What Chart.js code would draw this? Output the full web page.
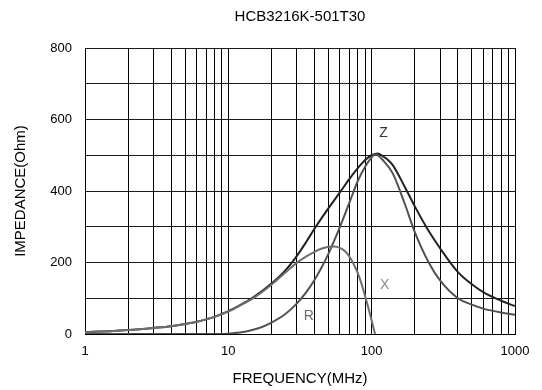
<!DOCTYPE html>
<html>
<head>
<meta charset="utf-8">
<title>HCB3216K-501T30</title>
<script src="https://cdn.jsdelivr.net/npm/chart.js@4/dist/chart.umd.min.js"></script>
<style>
  html, body { margin: 0; padding: 0; background: #fff; }
</style>
</head>
<body>
<canvas id="impedanceChart" width="542" height="390"></canvas>
<script>
// values: frequency in MHz, impedance in Ohm
const xFreq = [1, 1.5, 2, 3, 4, 5, 6, 7, 8, 10, 12, 15, 20, 25, 30, 35, 40, 45, 50, 55, 60, 65, 70, 75, 80, 85, 90, 95, 100, 105, 106];
const xImp  = [5, 8, 11, 17, 22, 28, 34, 41, 48, 63, 79, 101, 138, 172, 199, 217, 230, 239, 244, 245, 241, 232, 216, 195, 170, 140, 106, 72, 38, 4, 0];

const rFreq = [1, 5, 8, 10, 12, 14, 17, 20, 25, 30, 35, 40, 45, 50, 60, 70, 80, 90, 100, 105, 110, 120, 140, 170, 200, 250, 300, 400, 500, 600, 800, 1000];
const rImp  = [0, 0, 0, 1, 4, 9, 19, 32, 56, 85, 117, 152, 188, 225, 299, 368, 428, 468, 494, 502, 500, 486, 450, 365, 285, 200, 150, 100, 82, 71, 60, 54];

const zFreq = [1, 1.5, 2, 3, 4, 5, 6, 7, 8, 10, 12, 15, 20, 25, 30, 35, 40, 50, 60, 70, 80, 90, 100, 110, 120, 130, 140, 170, 200, 250, 300, 400, 500, 600, 800, 1000];
const zImp  = [5, 8, 11, 17, 22, 28, 34, 41, 48, 64, 80, 103, 141, 178, 218, 258, 295, 352, 396, 434, 464, 487, 500, 505, 497, 487, 473, 412, 357, 288, 240, 173, 139, 117, 93, 78];

// axis ticks
const xTickLabels = [1, 10, 100, 1000];
const yTickLabels = [0, 200, 400, 600, 800];

// curve names written next to the curves (data units)
const curveNames = ['Z', 'X', 'R'];
const curveNameFreq = [121, 123, 36.5];
const curveNameImp = [562, 136, 49];

const toPoints = (fs, vs) => fs.map((f, i) => ({x: f, y: vs[i]}));

// vertical grid: 1..9 in every decade, plus 1000
const xGridLines = [];
for (let d = 1; d < 1000; d *= 10) {
    for (let k = 1; k < 10; k++) xGridLines.push(k * d);
}
xGridLines.push(1000);

const curveLabelPlugin = {
    id: 'curveLabels',
    afterDatasetsDraw(chart) {
        const {ctx, scales: {x, y}} = chart;
        const colors = ['#333', '#8a8a8a', '#6a6a6a'];
        ctx.save();
        ctx.font = '14px "Liberation Sans", Arial, sans-serif';
        ctx.textAlign = 'center';
        ctx.textBaseline = 'middle';
        curveNames.forEach((t, i) => {
            ctx.fillStyle = colors[i];
            ctx.fillText(t, x.getPixelForValue(curveNameFreq[i]), y.getPixelForValue(curveNameImp[i]));
        });
        ctx.restore();
    }
};

function createImpedanceChart() {
    const ctx = document.getElementById('impedanceChart').getContext('2d');
    Chart.defaults.font.family = '"Liberation Sans", Arial, sans-serif';
    Chart.defaults.font.size = 13;
    Chart.defaults.color = '#000';

    const lineStyle = {
        parsing: false,
        pointRadius: 0,
        borderWidth: 2,
        fill: false,
        cubicInterpolationMode: 'monotone'
    };

    new Chart(ctx, {
        type: 'line',
        data: {
            datasets: [
                { label: 'X', data: toPoints(xFreq, xImp), borderColor: '#6e6e6e', ...lineStyle },
                { label: 'R', data: toPoints(rFreq, rImp), borderColor: '#525252', ...lineStyle },
                { label: 'Z', data: toPoints(zFreq, zImp), borderColor: '#222', ...lineStyle }
            ]
        },
        options: {
            responsive: false,
            animation: false,
            layout: { padding: { top: 0, right: 27, bottom: 0, left: 0 } },
            plugins: {
                legend: { display: false },
                tooltip: { enabled: false },
                title: {
                    display: true,
                    text: 'HCB3216K-501T30',
                    fullSize: false,
                    color: '#000',
                    font: { size: 15, weight: 'normal' },
                    padding: { top: 8, bottom: 22 }
                }
            },
            scales: {
                x: {
                    type: 'logarithmic',
                    min: 1,
                    max: 1000,
                    afterBuildTicks: s => { s.ticks = xGridLines.map(v => ({ value: v })); },
                    afterFit: s => { s.height = 56; },
                    grid: { color: '#000', lineWidth: 1, drawTicks: false },
                    border: { color: '#000' },
                    ticks: {
                        autoSkip: false,
                        maxRotation: 0,
                        padding: 10,
                        callback: v => xTickLabels.includes(v) ? String(v) : ''
                    },
                    title: { display: true, text: 'FREQUENCY(MHz)', font: { size: 15 }, padding: { top: 0, bottom: 2 } }
                },
                y: {
                    min: 0,
                    max: 800,
                    afterFit: s => { s.width = 85; },
                    grid: { color: '#1a1a1a', lineWidth: 1, drawTicks: false },
                    border: { color: '#000' },
                    ticks: {
                        stepSize: 100,
                        padding: 13,
                        callback: v => yTickLabels.includes(v) ? String(v) : ''
                    },
                    title: { display: true, text: 'IMPEDANCE(Ohm)', font: { size: 15 }, padding: { top: 12, bottom: 0 } }
                }
            }
        },
        plugins: [curveLabelPlugin]
    });
}

document.addEventListener('DOMContentLoaded', () => {
    createImpedanceChart();
});
</script>
</body>
</html>
